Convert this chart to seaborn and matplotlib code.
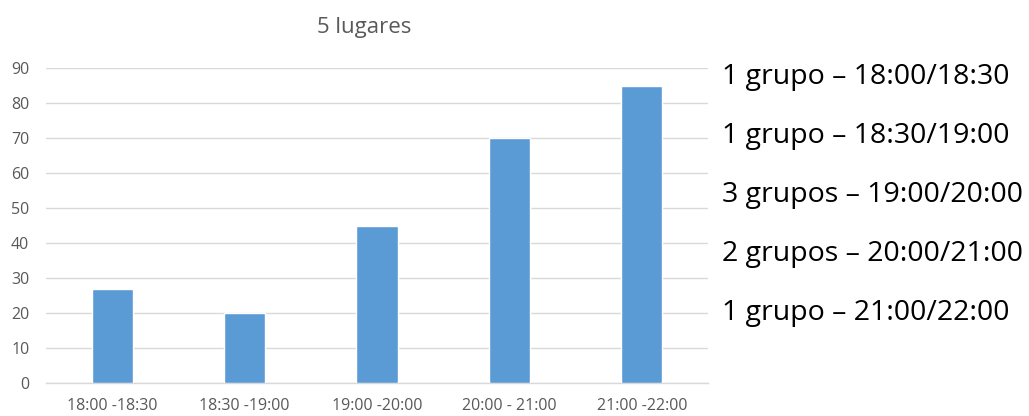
import matplotlib
matplotlib.use("Agg")
import matplotlib.pyplot as plt
import seaborn as sns
import pandas as pd

# Data
franjas = ["18:00 -18:30", "18:30 -19:00", "19:00 -20:00", "20:00 - 21:00", "21:00 -22:00"]
valores = [27, 20, 45, 70, 85]
notas = [
    "1 grupo – 18:00/18:30",
    "1 grupo – 18:30/19:00",
    "3 grupos – 19:00/20:00",
    "2 grupos – 20:00/21:00",
    "1 grupo – 21:00/22:00",
]
titulo = "5 lugares"
yticks = [0, 10, 20, 30, 40, 50, 60, 70, 80, 90]

sns.set_style("white")
plt.rcParams["font.family"] = ["Open Sans", "DejaVu Sans"]

df = pd.DataFrame({"franja": franjas, "valor": valores})

fig = plt.figure(figsize=(10.29, 4.16), dpi=100)
ax = fig.add_axes([46 / 1029, 1 - 383 / 416, (708 - 46) / 1029, (383 - 68) / 416])

sns.barplot(data=df, x="franja", y="valor", color="#5b9bd5", width=0.31,
            saturation=1, ax=ax, zorder=3)

ax.set_ylim(0, 90)
ax.set_yticks(yticks)
ax.set_xlim(-0.5, len(franjas) - 0.5)
ax.yaxis.grid(True, color="#d9d9d9", linewidth=1, zorder=0)
ax.set_axisbelow(True)
for s in ["top", "right", "left"]:
    ax.spines[s].set_visible(False)
ax.spines["bottom"].set_color("#d9d9d9")
ax.spines["bottom"].set_linewidth(1)
ax.tick_params(axis="both", length=0, labelsize=11.5, labelcolor="#595959")
ax.tick_params(axis="y", pad=12)
ax.tick_params(axis="x", pad=11)
ax.set_xlabel("")
ax.set_ylabel("")

fig.text(364 / 1029, 1 - 27 / 416, titulo, ha="center", va="center",
         fontsize=16, color="#595959")

ys = [77, 136, 195, 254, 313]
for t, y in zip(notas, ys):
    fig.text(722 / 1029, 1 - y / 416, t, ha="left", va="center",
             fontsize=20.5, color="black")

fig.savefig("out.png", dpi=100)
